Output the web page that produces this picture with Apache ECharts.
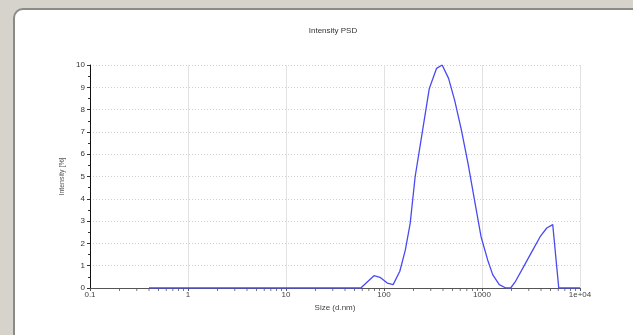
<!DOCTYPE html>
<html>
<head>
<meta charset="utf-8">
<script src="https://cdn.jsdelivr.net/npm/echarts@6/dist/echarts.min.js"></script>
<style>
  html, body { margin: 0; padding: 0; background: #d6d3cc; }
  #chart { width: 633px; height: 335px; }
</style>
</head>
<body>
<div id="chart"></div>
<script>
// Particle size distribution by intensity
const sizes = [0.4, 58, 79, 91, 108, 124, 145, 165, 185, 208, 234, 290, 344, 392, 456, 527, 615, 719, 838, 978, 1140, 1285, 1500, 1750, 1960, 2200, 2670, 3240, 3920, 4580, 5270, 6070, 10000];
const intensity = [0, 0, 0.55, 0.48, 0.22, 0.15, 0.75, 1.7, 2.9, 5.0, 6.4, 8.95, 9.85, 10.0, 9.4, 8.4, 7.1, 5.6, 3.95, 2.3, 1.27, 0.6, 0.15, 0, 0, 0.3, 0.97, 1.64, 2.3, 2.69, 2.84, 0, 0];
const yTicks = [0, 1, 2, 3, 4, 5, 6, 7, 8, 9, 10];
const xTickLabels = { 0.1: '0.1', 1: '1', 10: '10', 100: '100', 1000: '1000', 10000: '1e+04' };
const decades = [0.1, 1, 10, 100, 1000];
const minorSteps = [2, 3, 4, 5, 6, 7, 8, 9];

const points = sizes.map((s, i) => [s, intensity[i]]);
// log-spaced minor tick positions along the size axis
const minorTicks = [];
decades.forEach(d => minorSteps.forEach(m => minorTicks.push([+(d * m).toPrecision(3), 0])));

const chart = echarts.init(document.getElementById('chart'));
chart.setOption({
  animation: false,
  backgroundColor: 'transparent',
  graphic: [
    {
      type: 'rect', z: -10, silent: true,
      shape: { x: 14, y: 9, width: 640, height: 340, r: [9, 0, 0, 0] },
      style: { fill: '#ffffff', stroke: '#8a8a86', lineWidth: 2 }
    }
  ],
  title: {
    text: 'Intensity PSD',
    left: 328, top: 22, textAlign: 'center',
    textStyle: { fontFamily: 'Liberation Sans', fontSize: 8, fontWeight: 'normal', color: '#333' }
  },
  grid: { left: 90, right: 53, top: 65, bottom: 47 },
  xAxis: {
    type: 'log', logBase: 10, min: 0.1, max: 10000,
    name: 'Size (d.nm)', nameLocation: 'middle', nameGap: 14,
    nameTextStyle: { fontFamily: 'Liberation Sans', fontSize: 8, color: '#444' },
    axisLine: { lineStyle: { color: '#555', width: 1 } },
    axisTick: { show: true, length: 3, lineStyle: { color: '#555' } },
    minorTick: { show: false },
    axisLabel: {
      fontFamily: 'Liberation Sans', fontSize: 8, color: '#444', margin: 3,
      formatter: v => xTickLabels[v] !== undefined ? xTickLabels[v] : ''
    },
    splitLine: { show: true, lineStyle: { color: '#e2e2e2', width: 1 } }
  },
  yAxis: {
    type: 'value', min: 0, max: 10, interval: 1,
    name: 'Intensity [%]', nameLocation: 'middle', nameGap: 19, nameRotate: 90,
    nameTextStyle: { fontFamily: 'Liberation Sans', fontSize: 7, color: '#555' },
    axisLine: { show: true, lineStyle: { color: '#111', width: 1 } },
    axisTick: { show: true, length: 3, lineStyle: { color: '#333' } },
    minorTick: { show: true, splitNumber: 2, length: 2, lineStyle: { color: '#333' } },
    axisLabel: {
      fontFamily: 'Liberation Sans', fontSize: 8, color: '#333', margin: 5,
      formatter: v => yTicks.includes(v) ? String(v) : ''
    },
    splitLine: { show: true, lineStyle: { color: '#cfcfcf', type: [1, 2], width: 1 } }
  },
  series: [
    {
      type: 'line',
      data: points,
      showSymbol: false,
      smooth: false,
      lineStyle: { color: '#4a4af2', width: 1.3 },
      z: 3
    },
    {
      // minor ticks of the logarithmic size axis
      type: 'scatter',
      data: minorTicks,
      symbol: 'rect',
      symbolSize: [1, 3],
      symbolOffset: [0, 1.5],
      itemStyle: { color: '#555' },
      clip: false,
      silent: true,
      z: 1
    }
  ]
});
</script>
</body>
</html>
